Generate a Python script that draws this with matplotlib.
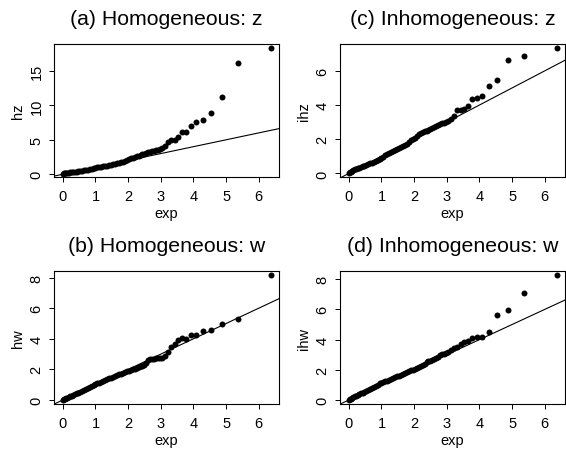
import matplotlib
matplotlib.use("Agg")
import matplotlib.pyplot as plt

plt.rcParams['font.family'] = ['Liberation Sans', 'DejaVu Sans']

# exponential quantiles (shared x for all four panels)
x_exp = [0.00, 0.03, 0.06, 0.10, 0.14, 0.18, 0.22, 0.27, 0.32, 0.37, 0.42, 0.47, 0.52,
         0.58, 0.64, 0.70, 0.76, 0.82, 0.88, 0.94, 1.00, 1.06, 1.12, 1.18, 1.24, 1.30,
         1.36, 1.42, 1.48, 1.54, 1.60, 1.66, 1.72, 1.78, 1.84, 1.90, 1.96, 2.02, 2.08,
         2.14, 2.20, 2.26, 2.32, 2.38, 2.44, 2.50, 2.56, 2.62, 2.68, 2.74, 2.80, 2.86,
         2.92, 2.98, 3.04, 3.12, 3.21, 3.31, 3.42, 3.54, 3.65, 3.78, 3.92, 4.09, 4.29,
         4.55, 4.87, 5.37, 6.37]

hz = [0.08, 0.12, 0.16, 0.20, 0.22, 0.25, 0.27, 0.30, 0.33, 0.36, 0.39, 0.42, 0.45,
      0.50, 0.55, 0.60, 0.66, 0.72, 0.79, 0.86, 0.93, 0.98, 1.03, 1.08, 1.14, 1.20,
      1.26, 1.33, 1.39, 1.45, 1.52, 1.58, 1.65, 1.72, 1.80, 1.90, 2.05, 2.20, 2.30,
      2.40, 2.50, 2.60, 2.70, 2.80, 2.90, 3.00, 3.10, 3.20, 3.30, 3.35, 3.40, 3.50,
      3.55, 3.65, 3.80, 4.04, 4.70, 4.90, 5.00, 5.40, 6.08, 6.08, 6.96, 7.60, 7.94,
      8.90, 11.2, 16.2, 18.36]

ihz = [0.05, 0.08, 0.11, 0.15, 0.19, 0.23, 0.26, 0.30, 0.34, 0.38, 0.42, 0.45, 0.48,
       0.53, 0.58, 0.63, 0.68, 0.73, 0.78, 0.84, 0.90, 0.97, 1.06, 1.16, 1.22, 1.27,
       1.32, 1.37, 1.42, 1.47, 1.53, 1.60, 1.67, 1.74, 1.84, 1.94, 2.02, 2.10, 2.20,
       2.28, 2.35, 2.40, 2.46, 2.51, 2.55, 2.60, 2.65, 2.72, 2.78, 2.83, 2.87, 2.92,
       2.97, 3.02, 3.08, 3.18, 3.35, 3.71, 3.71, 3.75, 3.94, 4.34, 4.41, 4.53, 5.12,
       5.47, 6.65, 6.88, 7.35]

hw = [0.03, 0.06, 0.09, 0.12, 0.16, 0.20, 0.24, 0.29, 0.34, 0.39, 0.44, 0.49, 0.54,
      0.60, 0.66, 0.72, 0.78, 0.84, 0.90, 0.96, 1.02, 1.08, 1.14, 1.20, 1.26, 1.31,
      1.36, 1.41, 1.46, 1.52, 1.57, 1.62, 1.67, 1.72, 1.77, 1.82, 1.87, 1.92, 1.96,
      2.00, 2.05, 2.10, 2.15, 2.20, 2.24, 2.30, 2.45, 2.60, 2.65, 2.68, 2.70, 2.72,
      2.73, 2.74, 2.76, 2.90, 3.12, 3.44, 3.66, 3.92, 4.05, 3.99, 4.27, 4.24, 4.53,
      4.60, 4.97, 5.27, 8.19]

ihw = [0.03, 0.06, 0.10, 0.14, 0.19, 0.24, 0.28, 0.33, 0.38, 0.44, 0.50, 0.55, 0.61,
       0.68, 0.75, 0.82, 0.89, 0.96, 1.03, 1.10, 1.16, 1.21, 1.25, 1.29, 1.33, 1.38,
       1.43, 1.50, 1.56, 1.62, 1.68, 1.75, 1.82, 1.88, 1.92, 1.96, 2.00, 2.06, 2.10,
       2.16, 2.24, 2.32, 2.40, 2.50, 2.56, 2.60, 2.64, 2.70, 2.78, 2.88, 2.98, 3.04,
       3.08, 3.12, 3.18, 3.28, 3.44, 3.53, 3.71, 3.82, 3.89, 4.08, 4.17, 4.15, 4.52,
       5.65, 5.94, 7.07, 8.30]

W, H = 566, 452
fig = plt.figure(figsize=(W / 100, H / 100), dpi=100)


def px_axes(left, top, right, bottom):
    return fig.add_axes([left / W, 1 - bottom / H, (right - left) / W, (bottom - top) / H])


panels = [
    ("(a) Homogeneous: z", "hz", hz, (54, 45, 279, 178), (-0.4, 18.9), [0, 5, 10, 15]),
    ("(c) Inhomogeneous: z", "ihz", ihz, (340, 45, 565, 178), (-0.21, 7.57), [0, 2, 4, 6]),
    ("(b) Homogeneous: w", "hw", hw, (54, 272, 279, 405), (-0.26, 8.43), [0, 2, 4, 6, 8]),
    ("(d) Inhomogeneous: w", "ihw", ihw, (340, 272, 565, 405), (-0.26, 8.54), [0, 2, 4, 6, 8]),
]

for title, ylab, yvals, box, ylim, yticks in panels:
    ax = px_axes(*box)
    ax.plot(x_exp, yvals, 'o', color='black', ms=4.3, mew=0)
    ax.axline((0, 0), slope=1, color='black', lw=0.8)
    ax.set_xlim(-0.27, 6.62)
    ax.set_ylim(*ylim)
    ax.set_xticks(range(7))
    ax.set_yticks(yticks)
    ax.set_yticklabels([str(t) for t in yticks], rotation=90, va='center')
    ax.tick_params(direction='out', length=3.5, width=0.7, labelsize=10.5)
    ax.tick_params(axis='x', pad=5)
    ax.tick_params(axis='y', pad=4)
    for s in ax.spines.values():
        s.set_linewidth(0.8)
    ax.set_xlabel("exp", fontsize=10.5, labelpad=2)
    ax.set_ylabel(ylab, fontsize=10.5, labelpad=3)
    cx = (box[0] + box[2]) / 2
    fig.text(cx / W, 1 - (box[1] - 20) / H, title, ha='center', va='baseline', fontsize=15.3)

fig.savefig("out.png", dpi=100)
